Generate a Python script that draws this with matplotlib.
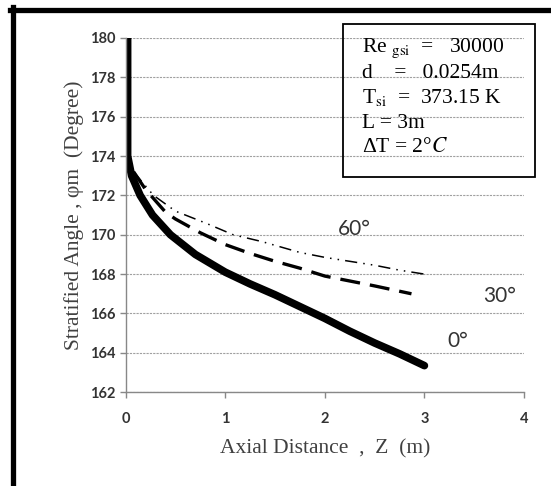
import numpy as np
import matplotlib.pyplot as plt
from matplotlib.lines import Line2D
from matplotlib.patches import Rectangle

plt.rcParams['mathtext.fontset'] = 'stix'

# data
z_0 = [0.02, 0.02, 0.02, 0.06, 0.146, 0.27, 0.45, 0.7, 1.0, 1.25, 1.5,
       1.75, 2.0, 2.25, 2.5, 2.75, 3.0]
phi_0 = [180, 176, 174, 173, 172, 171, 170, 169, 168.1, 167.5, 166.95,
         166.35, 165.75, 165.1, 164.5, 163.95, 163.35]

z_30 = [0.08, 0.2, 0.4, 0.5, 0.75, 1.0, 1.25, 1.5, 1.75, 2.0, 2.25, 2.5, 2.87]
phi_30 = [173.2, 172.3, 171.15, 170.8, 170.1, 169.5, 169.05, 168.65, 168.3, 167.9,
          167.65, 167.4, 167.0]

z_60 = [0.08, 0.146, 0.28, 0.5, 0.8, 1.08, 1.37, 1.75, 2.0, 2.25, 2.5, 2.75, 3.0]
phi_60 = [173.2, 172.8, 172.0, 171.2, 170.6, 170.0, 169.65, 169.1, 168.85,
          168.65, 168.45, 168.2, 168.0]

labels = ["0°", "30°", "60°"]
label_pos = [(3.33, 164.6), (3.75, 166.9), (2.3, 170.3)]

xticks = [0, 1, 2, 3, 4]
yticks = list(range(162, 181, 2))

box_lines = [r"Re $_{\rm gsi}$  =   30000",
             "d    =   0.0254m",
             r"T$_{\rm si}$  =  373.15 K",
             "L = 3m",
             r"ΔT = 2°$C$"]

fig = plt.figure(figsize=(5.51, 4.86), dpi=100)
ax = fig.add_axes([0.228, 0.193, 0.723, 0.729])

ax.plot(z_0, phi_0, color="black", linewidth=5.5, solid_capstyle="round")
ax.plot(z_30, phi_30, color="black", linewidth=2.4, dashes=(6, 3))
ax.plot(z_60, phi_60, color="black", linewidth=1.1, dashes=(8, 4, 1, 4, 1, 4))

for lab, (x, y) in zip(labels, label_pos):
    ax.text(x, y, lab, fontsize=15, family="Lato", color="#333333",
            ha="center", va="center")

ax.set_xlim(0, 4)
ax.set_ylim(162, 180)
ax.set_xticks(xticks)
ax.set_yticks(yticks)
ax.grid(axis="y", color="#a0a0a0", linestyle=(0, (2, 1)), linewidth=0.8)
ax.set_axisbelow(True)
for s in ["top", "right"]:
    ax.spines[s].set_visible(False)
for s in ["left", "bottom"]:
    ax.spines[s].set_color("#888888")
    ax.spines[s].set_linewidth(1.0)
ax.tick_params(colors="#888888", labelcolor="#333333", length=4, width=1.0,
               labelsize=10.5)
for t in ax.get_xticklabels() + ax.get_yticklabels():
    t.set_family("Lato")
    t.set_fontweight("bold")
ax.tick_params(axis="x", pad=10)

ax.set_xlabel("Axial Distance  ,  Z  (m)", family="Liberation Serif",
              fontsize=15.5, color="#404040", labelpad=10)
ax.set_ylabel("Stratified Angle , φm  (Degree)", family="Liberation Serif",
              fontsize=15.5, color="#404040", labelpad=4)

# parameter box
fig.patches.append(Rectangle((0.6225, 0.636), 0.3485, 0.3146, transform=fig.transFigure,
                             fill=False, edgecolor="black", linewidth=1.3))
for i, s in enumerate(box_lines):
    fig.text(0.657, 1 - (48 + 25 * i) / 486, s, family="Liberation Serif",
             fontsize=15.5, color="black", va="center")

# black frame around the picture
fig.lines.append(Line2D([0.018, 1.0], [0.980, 0.980], transform=fig.transFigure,
                        color="black", linewidth=3.8))
fig.lines.append(Line2D([0.0227, 0.0227], [0.985, 0.0], transform=fig.transFigure,
                        color="black", linewidth=3.8))

fig.savefig("out.png", dpi=100)
